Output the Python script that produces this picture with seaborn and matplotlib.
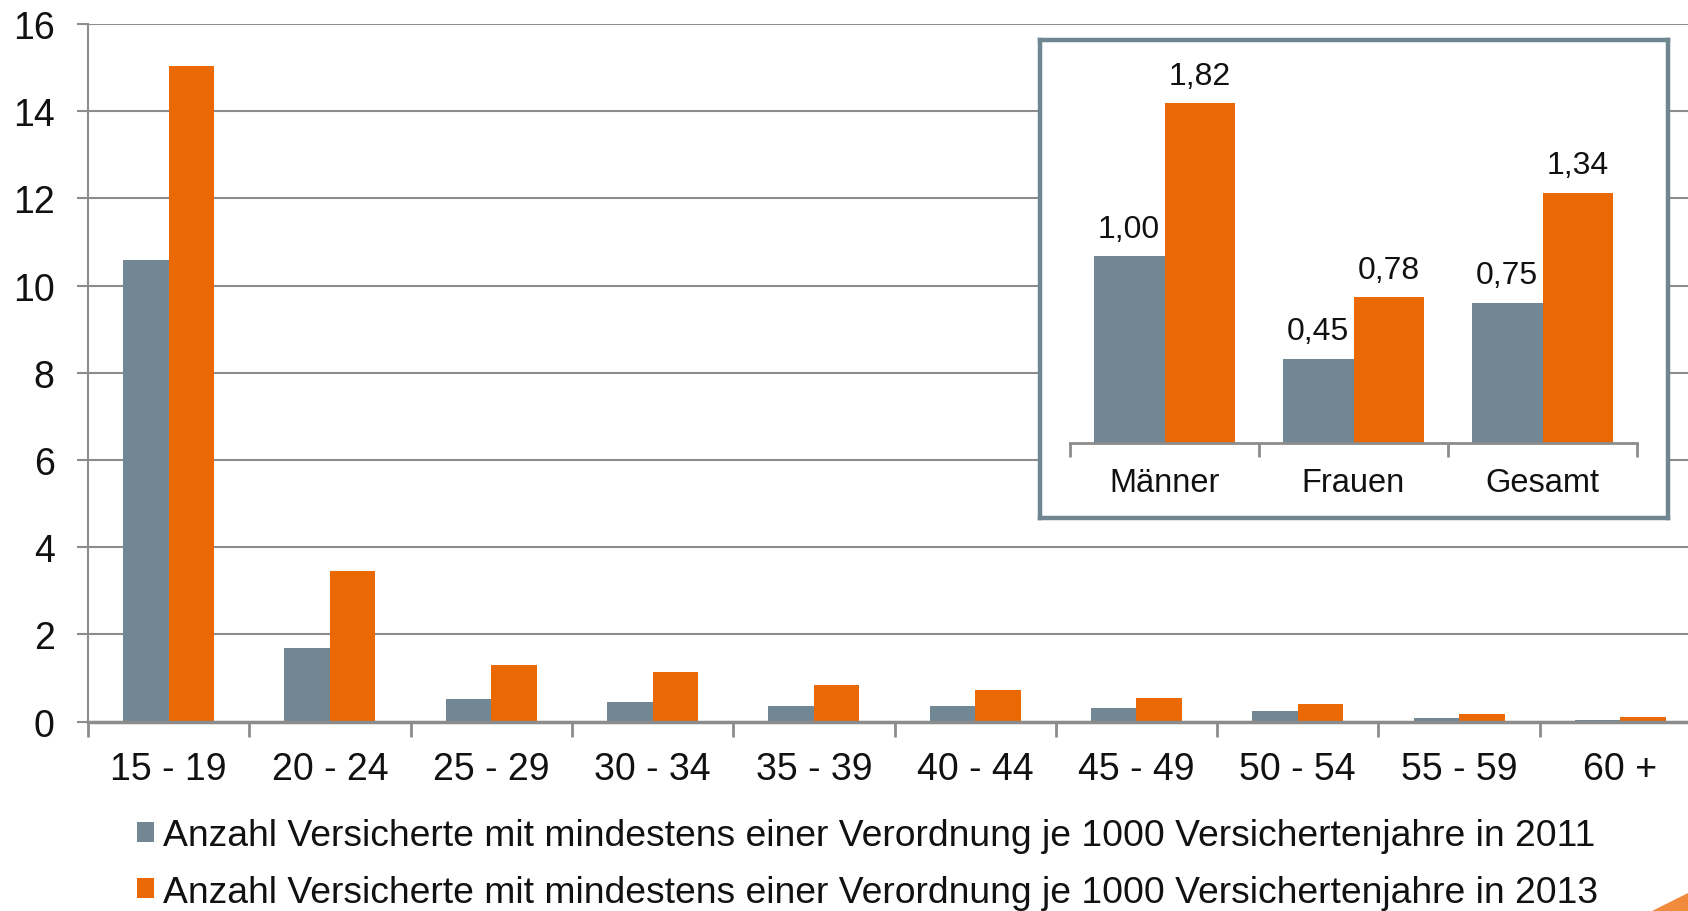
import pandas as pd
import seaborn as sns
from matplotlib import pyplot as plt
from matplotlib.patches import Patch, Polygon

# data
age_groups = ['15 - 19', '20 - 24', '25 - 29', '30 - 34', '35 - 39',
              '40 - 44', '45 - 49', '50 - 54', '55 - 59', '60 +']
values_2011 = [10.58, 1.70, 0.53, 0.45, 0.36, 0.36, 0.31, 0.25, 0.09, 0.05]
values_2013 = [15.03, 3.45, 1.30, 1.13, 0.85, 0.73, 0.54, 0.40, 0.18, 0.10]

inset_groups = ['Männer', 'Frauen', 'Gesamt']
inset_2011 = [1.00, 0.45, 0.75]
inset_2013 = [1.82, 0.78, 1.34]

legend_labels = [
    'Anzahl Versicherte mit mindestens einer Verordnung je 1000 Versichertenjahre in 2011',
    'Anzahl Versicherte mit mindestens einer Verordnung je 1000 Versichertenjahre in 2013',
]

GREY = '#718793'
ORANGE = '#ea6904'
LINE = '#8c8c8c'
FRAME = '#6f8590'

sns.set_theme(style='white')
plt.rcParams['font.family'] = ['Liberation Sans', 'DejaVu Sans']

main_df = pd.DataFrame({
    'age': age_groups * 2,
    'value': values_2011 + values_2013,
    'year': ['2011'] * len(age_groups) + ['2013'] * len(age_groups),
})
inset_df = pd.DataFrame({
    'group': inset_groups * 2,
    'value': inset_2011 + inset_2013,
    'year': ['2011'] * len(inset_groups) + ['2013'] * len(inset_groups),
})

W, H = 1688, 912
fig = plt.figure(figsize=(W / 100, H / 100), dpi=100)


def px_box(x0, y0, x1, y1):
    # pixel box (top-left origin) -> figure fraction rect
    return [x0 / W, 1 - y1 / H, (x1 - x0) / W, (y1 - y0) / H]


# ---- main chart ----
ax = fig.add_axes(px_box(88, 25, 1701, 722.7))
sns.barplot(data=main_df, x='age', y='value', hue='year',
            palette=[GREY, ORANGE], width=0.564, saturation=1,
            edgecolor='none', legend=False, ax=ax)
ax.set_ylim(0, 16)
ax.set_xlim(-0.5, 9.5)
ax.set_yticks(range(0, 17, 2))
ax.yaxis.grid(True, color=LINE, linewidth=1.5)
ax.set_axisbelow(True)
ax.set_xlabel('')
ax.set_ylabel('')
for side in ['top', 'right']:
    ax.spines[side].set_visible(False)
ax.spines['left'].set_color(LINE)
ax.spines['left'].set_linewidth(1.5)
ax.spines['bottom'].set_color(LINE)
ax.spines['bottom'].set_linewidth(2.5)
ax.tick_params(axis='y', left=True, length=8, color=LINE, width=1.5, labelsize=27, pad=16)
ax.tick_params(axis='x', which='major', bottom=True, length=0, labelsize=27, pad=21)
ax.set_xticks([i - 0.5 for i in range(len(age_groups) + 1)], minor=True)
ax.tick_params(axis='x', which='minor', bottom=True, length=11, color=LINE, width=2, direction='out')
for lbl in ax.get_yticklabels() + ax.get_xticklabels():
    lbl.set_color('#111111')

# ---- inset ----
box = fig.add_axes(px_box(1040, 41, 1667.5, 519))
box.set_xticks([])
box.set_yticks([])
box.patch.set_facecolor('white')
for sp in box.spines.values():
    sp.set_color(FRAME)
    sp.set_linewidth(3.2)

inset = fig.add_axes(px_box(1070, 70.9, 1637, 443.5))
inset.patch.set_alpha(0)
sns.barplot(data=inset_df, x='group', y='value', hue='year',
            palette=[GREY, ORANGE], width=0.75, saturation=1,
            edgecolor='none', legend=False, ax=inset)
inset.set_ylim(0, 2.0)
inset.set_xlim(-0.5, 2.5)
inset.set_yticks([])
inset.set_xlabel('')
inset.set_ylabel('')
for side in ['top', 'right', 'left']:
    inset.spines[side].set_visible(False)
inset.spines['bottom'].set_color(LINE)
inset.spines['bottom'].set_linewidth(2)
inset.tick_params(axis='x', which='major', bottom=True, length=0, labelsize=23.5, pad=18)
inset.set_xticks([i - 0.5 for i in range(len(inset_groups) + 1)], minor=True)
inset.tick_params(axis='x', which='minor', bottom=True, length=10, color=LINE, width=2, direction='out')
for lbl in inset.get_xticklabels():
    lbl.set_color('#111111')
for cont in inset.containers:
    inset.bar_label(cont, labels=[f'{v:.2f}'.replace('.', ',') for v in cont.datavalues],
                    padding=9, fontsize=23, color='#111111')

# ---- legend ----
handles = [Patch(facecolor=GREY, edgecolor='none'), Patch(facecolor=ORANGE, edgecolor='none')]
fig.legend(handles, legend_labels, loc='upper left', bbox_to_anchor=(137 / W, 1 - 819 / H),
           frameon=False, fontsize=26.8, handlelength=0.46, handleheight=0.46,
           handletextpad=0.25, labelspacing=0.58, borderpad=0, borderaxespad=0,
           labelcolor='#111111')

# small orange corner accent
fig.patches.append(Polygon([(1652 / W, 0), (1, 0), (1, 18 / H)], closed=True,
                           transform=fig.transFigure, facecolor='#f08a3c', edgecolor='none'))

fig.savefig('out.png', dpi=100)
plt.close(fig)
